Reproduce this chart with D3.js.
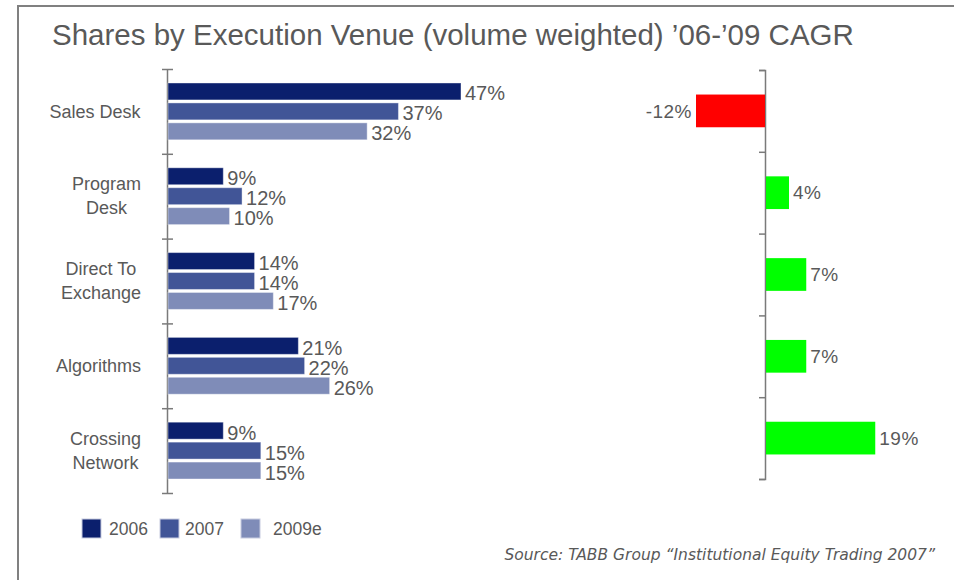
<!DOCTYPE html>
<html>
<head>
<meta charset="utf-8">
<script src="https://cdn.jsdelivr.net/npm/d3@7"></script>
<style>
  body { margin: 0; background: #fff; }
  text { font-family: "Liberation Sans", Arial, sans-serif; fill: #595959; }
</style>
</head>
<body>
<div id="chart"></div>
<script>
// shares by execution venue + CAGR, two bar panels side by side

const categories = ["Sales Desk", "Program Desk", "Direct To Exchange", "Algorithms", "Crossing Network"];
const catLines = [["Sales Desk"], ["Program", "Desk"], ["Direct To", "Exchange"], ["Algorithms"], ["Crossing", "Network"]];
const seriesNames = ["2006", "2007", "2009e"];
const v2006 = [47, 9, 14, 21, 9];
const v2007 = [37, 12, 14, 22, 15];
const v2009e = [32, 10, 17, 26, 15];
const cagr = [-12, 4, 7, 7, 19];
const seriesColors = ["#0b1f6d", "#415597", "#7f8cb8"];

const width = 954, height = 580;

const svg = d3.select("#chart").append("svg")
  .attr("width", width)
  .attr("height", height);

// frame
svg.append("path")
  .attr("d", `M18,${height} L18,6 L${width},6`)
  .attr("fill", "none")
  .attr("stroke", "#808080")
  .attr("stroke-width", 2);

svg.append("text")
  .attr("x", 52)
  .attr("y", 45)
  .style("font-size", "29.5px")
  .text("Shares by Execution Venue (volume weighted) \u201906-\u201909 CAGR");

// ---- left panel ----
const series = seriesNames.map((name, i) => ({
  name: name,
  color: seriesColors[i],
  values: [v2006, v2007, v2009e][i]
}));

const yTop = 69, yBottom = 493;
const y0 = d3.scaleBand()
  .domain(categories)
  .range([yTop, yBottom])
  .paddingInner(0.33)
  .paddingOuter(0.165);

const y1 = d3.scaleBand()
  .domain(seriesNames)
  .range([0, y0.bandwidth()])
  .paddingInner(0.15);

const xL = d3.scaleLinear()
  .domain([0, 50])
  .range([167, 167 + 50 * 6.255]);

const leftAxis = svg.append("g")
  .attr("transform", `translate(${xL(0)},0)`)
  .call(d3.axisLeft(d3.scaleLinear().domain([0, 5]).range([yTop, yBottom]))
    .ticks(5)
    .tickSizeOuter(0)
    .tickFormat(""));
leftAxis.selectAll(".tick line").attr("x1", -5).attr("x2", 6);

const groups = svg.selectAll(".grp")
  .data(categories)
  .enter()
  .append("g")
  .attr("class", "grp")
  .attr("transform", d => `translate(0,${y0(d)})`);

series.forEach(s => {
  groups.append("rect")
    .attr("x", xL(0) + 1)
    .attr("y", y1(s.name))
    .attr("width", (d, i) => xL(s.values[i]) - xL(0) - 1)
    .attr("height", y1.bandwidth())
    .attr("fill", s.color)
    .attr("stroke", "#ffffff")
    .attr("stroke-opacity", 0.4)
    .attr("stroke-width", 1);

  groups.append("text")
    .attr("x", (d, i) => xL(s.values[i]) + 4)
    .attr("y", y1(s.name) + y1.bandwidth() / 2 + 2)
    .attr("dy", "0.35em")
    .style("font-size", "20px")
    .text((d, i) => s.values[i] + "%");
});

// category labels, lines centred in a block right-aligned at 141
groups.each(function (d, i) {
  const lines = catLines[i];
  const t = d3.select(this).append("text")
    .attr("text-anchor", "middle")
    .style("font-size", "18px");
  const lh = 24;
  lines.forEach((ln, k) => {
    t.append("tspan")
      .attr("x", 0)
      .attr("y", y0.bandwidth() / 2 + (k - (lines.length - 1) / 2) * lh)
      .attr("dy", "0.35em")
      .text(ln);
  });
  const w = t.node().getBBox().width;
  t.selectAll("tspan").attr("x", 141 - w / 2);
});

// ---- right panel (CAGR) ----
const yR = d3.scaleBand()
  .domain(categories)
  .range([70, 479])
  .paddingInner(0.6)
  .paddingOuter(0.3);

const xR = d3.scaleLinear()
  .domain([-15, 20])
  .range([765 - 15 * 5.75, 765 + 20 * 5.75]);

svg.append("g")
  .attr("transform", `translate(${xR(0)},0)`)
  .call(d3.axisLeft(d3.scaleLinear().domain([0, 5]).range([70, 479]))
    .ticks(5)
    .tickSize(6)
    .tickFormat(""));

svg.selectAll(".cagr")
  .data(categories)
  .enter()
  .append("rect")
  .attr("class", "cagr")
  .attr("x", (d, i) => cagr[i] < 0 ? xR(cagr[i]) : xR(0) + 1)
  .attr("y", d => yR(d))
  .attr("width", (d, i) => Math.abs(xR(cagr[i]) - xR(0)))
  .attr("height", yR.bandwidth())
  .attr("fill", (d, i) => cagr[i] < 0 ? "#ff0000" : "#00ff00");

svg.selectAll(".cagrLbl")
  .data(categories)
  .enter()
  .append("text")
  .attr("class", "cagrLbl")
  .attr("x", (d, i) => cagr[i] < 0 ? xR(cagr[i]) - 4 : xR(cagr[i]) + 5)
  .attr("y", d => yR(d) + yR.bandwidth() / 2)
  .attr("dy", "0.35em")
  .attr("text-anchor", (d, i) => cagr[i] < 0 ? "end" : "start")
  .style("font-size", "19px")
  .style("letter-spacing", "0.5px")
  .text((d, i) => cagr[i] + "%");

svg.selectAll(".domain, .tick line")
  .attr("stroke", "#7a7a7a")
  .attr("stroke-width", 1.5);

// ---- legend ----
const legendX = [82, 160, 241];
const legendTextX = [109, 185, 273];
series.forEach((s, i) => {
  svg.append("rect")
    .attr("x", legendX[i])
    .attr("y", 519)
    .attr("width", 19)
    .attr("height", 19)
    .attr("fill", s.color)
    .attr("stroke", "#c8cce0")
    .attr("stroke-width", 1);
  svg.append("text")
    .attr("x", legendTextX[i])
    .attr("y", 529)
    .attr("dy", "0.35em")
    .style("font-size", "17.5px")
    .text(s.name);
});

svg.append("text")
  .attr("x", 935)
  .attr("y", 555)
  .attr("dy", "0.35em")
  .attr("text-anchor", "end")
  .style("font-family", "'DejaVu Sans', sans-serif")
  .style("font-size", "15.5px")
  .style("font-style", "italic")
  .text("Source: TABB Group \u201cInstitutional Equity Trading 2007\u201d");
</script>
</body>
</html>
